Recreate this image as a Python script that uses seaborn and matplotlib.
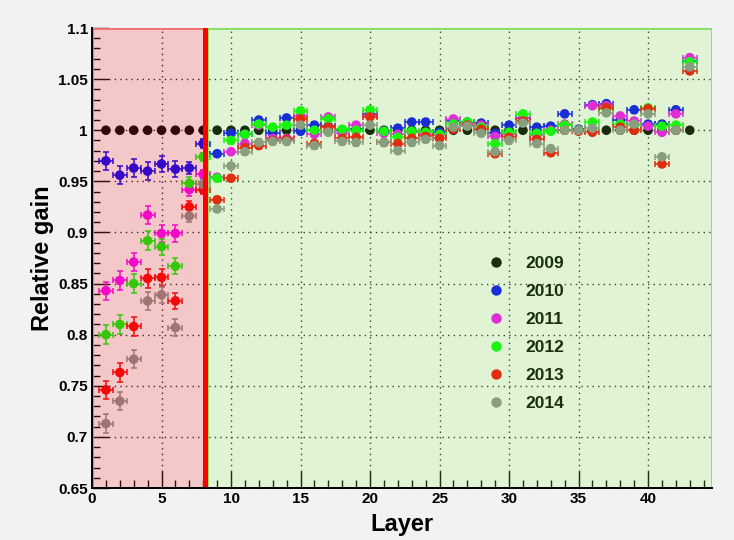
import matplotlib
matplotlib.use("Agg")
import matplotlib.pyplot as plt
from matplotlib.patches import Rectangle
from matplotlib.lines import Line2D
from matplotlib.ticker import MultipleLocator, FuncFormatter
import matplotlib.colors as mcolors
import numpy as np
import pandas as pd
import seaborn as sns

# ---------------------------------------------------------------- data
layers = list(range(1, 44))
years = ["2009", "2010", "2011", "2012", "2013", "2014"]

gain_2009 = [1.0, 1.0, 1.0, 1.0, 1.0, 1.0, 1.0, 1.0, 1.0, 1.0,
             1.0, 1.0, 1.0, 1.0, 1.0, 1.0, 1.0, 1.0, 1.0, 1.0,
             1.0, 1.0, 1.0, 1.0, 1.0, 1.0, 1.0, 1.0, 1.0, 1.0,
             1.0, 1.0, 1.0, 1.0, 1.0, 1.0, 1.0, 1.0, 1.0, 1.0,
             1.0, 1.0, 1.0]
gain_2010 = [0.970, 0.956, 0.963, 0.960, 0.967, 0.962, 0.963, 0.987, 0.977, 0.997,
             0.996, 1.010, 0.997, 1.012, 0.999, 1.005, 1.004, 1.000, 1.001, 1.016,
             0.999, 1.002, 1.008, 1.008, 0.998, 1.009, 1.008, 1.007, 0.997, 1.005,
             1.012, 1.003, 1.004, 1.016, 1.001, 1.025, 1.026, 1.010, 1.020, 1.006,
             1.006, 1.020, 1.068]
gain_2011 = [0.843, 0.853, 0.871, 0.917, 0.899, 0.899, 0.942, 0.957, 0.954, 0.979,
             0.987, 1.005, 0.992, 0.992, 1.014, 0.996, 1.013, 0.997, 1.005, 1.014,
             0.997, 0.996, 0.998, 0.996, 0.995, 1.011, 1.006, 1.005, 0.994, 0.996,
             1.012, 0.995, 1.000, 1.006, 1.000, 1.024, 1.024, 1.014, 1.009, 1.004,
             0.998, 1.016, 1.071]
gain_2012 = [0.800, 0.810, 0.850, 0.892, 0.886, 0.867, 0.948, 0.974, 0.953, 0.990,
             0.996, 1.006, 1.003, 1.005, 1.019, 1.000, 1.011, 1.001, 1.000, 1.020,
             0.999, 0.993, 0.999, 0.998, 0.996, 1.006, 1.008, 1.003, 0.987, 0.998,
             1.016, 0.997, 0.999, 1.005, 1.000, 1.008, 1.021, 1.006, 1.005, 1.022,
             1.004, 1.005, 1.067]
gain_2013 = [0.746, 0.763, 0.808, 0.855, 0.856, 0.833, 0.925, 0.942, 0.932, 0.953,
             0.983, 0.985, 0.990, 0.991, 1.011, 0.987, 1.003, 0.992, 0.993, 1.013,
             0.988, 0.987, 0.992, 0.994, 0.992, 1.001, 1.005, 1.001, 0.977, 0.993,
             1.009, 0.991, 0.978, 1.000, 0.999, 0.998, 1.022, 1.003, 1.000, 1.021,
             0.967, 1.000, 1.058]
gain_2014 = [0.713, 0.735, 0.776, 0.833, 0.839, 0.807, 0.916, 0.947, 0.923, 0.965,
             0.979, 0.988, 0.989, 0.989, 1.005, 0.985, 0.998, 0.989, 0.988, 1.005,
             0.988, 0.980, 0.988, 0.991, 0.985, 1.003, 1.004, 0.997, 0.979, 0.990,
             1.007, 0.987, 0.982, 1.000, 1.000, 1.002, 1.017, 1.000, 1.006, 1.016,
             0.974, 1.000, 1.062]

# per-layer uncertainty on the relative gain (2009 is the reference, no error)
gain_err = [0.009, 0.009, 0.009, 0.009, 0.008, 0.008, 0.006, 0.004, 0.003, 0.003,
            0.003, 0.003, 0.003, 0.003, 0.003, 0.003, 0.003, 0.003, 0.003, 0.003,
            0.003, 0.003, 0.003, 0.003, 0.003, 0.003, 0.003, 0.003, 0.003, 0.003,
            0.003, 0.003, 0.003, 0.003, 0.003, 0.003, 0.003, 0.003, 0.003, 0.003,
            0.003, 0.003, 0.003]

series = {"2009": gain_2009, "2010": gain_2010, "2011": gain_2011,
          "2012": gain_2012, "2013": gain_2013, "2014": gain_2014}

colors = {"2009": "#000000", "2010": "#0000ff", "2011": "#ff00ff",
          "2012": "#00ff00", "2013": "#ff0000", "2014": "#909090"}

# ---------------------------------------------------------------- style
sns.set_theme(style="white")
plt.rcParams["font.family"] = ["Liberation Sans", "DejaVu Sans"]
plt.rcParams["font.weight"] = "bold"
for key in ("text.color", "axes.labelcolor", "xtick.color", "ytick.color",
            "xtick.labelcolor", "ytick.labelcolor"):
    plt.rcParams[key] = "black"

fig = plt.figure(figsize=(7.34, 5.40), dpi=100, facecolor="#f2f2f2")
ax = fig.add_axes([92 / 734, 52 / 540, 620 / 734, 460 / 540])
ax.set_facecolor("white")

x_max = 44.6
boundary = 8.15
ax.set_xlim(0, x_max)
ax.set_ylim(0.65, 1.1)

# ---------------------------------------------------------------- points
for yr in years:
    df = pd.DataFrame({"layer": layers, "gain": series[yr]})
    if yr != "2009":
        ax.errorbar(df["layer"], df["gain"], xerr=0.5, yerr=gain_err,
                    fmt="none", ecolor=colors[yr], elinewidth=1.1,
                    capsize=2.2, capthick=1.1, zorder=2)
    sns.scatterplot(data=df, x="layer", y="gain", color=colors[yr], s=48,
                    edgecolor="none", linewidth=0, ax=ax, zorder=2.1,
                    legend=False)

# ---------------------------------------------------------------- shaded regions
red_fill, red_alpha = "#d42424", 0.25
green_fill, green_alpha = "#72d144", 0.22
ax.add_patch(Rectangle((0, 0.65), boundary, 0.45, facecolor=red_fill,
                       alpha=red_alpha, edgecolor="none", zorder=3))
ax.add_patch(Rectangle((0, 0.65), boundary, 0.45, facecolor="none",
                       edgecolor="#f07070", lw=2.0, zorder=3.1))
ax.add_patch(Rectangle((boundary + 0.1, 0.65), x_max - boundary - 0.1, 0.45,
                       facecolor=green_fill, alpha=green_alpha,
                       edgecolor="none", zorder=3))
ax.add_patch(Rectangle((boundary + 0.1, 0.65), x_max - boundary - 0.1, 0.45,
                       facecolor="none", edgecolor="#86e060", lw=2.0,
                       zorder=3.1))
ax.axvline(boundary, color="#ff0000", lw=3.6, zorder=4)

# ---------------------------------------------------------------- axes
ax.xaxis.set_major_locator(MultipleLocator(5))
ax.xaxis.set_minor_locator(MultipleLocator(1))
ax.yaxis.set_major_locator(MultipleLocator(0.05))
ax.yaxis.set_minor_locator(MultipleLocator(0.01))
ax.yaxis.set_major_formatter(FuncFormatter(lambda v, p: f"{v:g}"))
ax.xaxis.set_major_formatter(FuncFormatter(lambda v, p: f"{v:g}"))

for v in ax.get_xticks():
    if 0 < v < x_max:
        ax.axvline(v, color="#222222", lw=1.0, ls=(0, (1, 3)), zorder=1)
for v in ax.get_yticks():
    if 0.65 < v < 1.1:
        ax.axhline(v, color="#222222", lw=1.0, ls=(0, (1, 3)), zorder=1)

ax.tick_params(which="major", direction="in", length=12, width=1.0,
               color="black", labelcolor="black", labelsize=11, pad=3,
               top=False, right=False, bottom=True, left=True)
ax.tick_params(which="minor", direction="in", length=6, width=1.0,
               color="black", top=False, right=False, bottom=True, left=True)
for lab in ax.get_xticklabels() + ax.get_yticklabels():
    lab.set_fontweight("bold")

for side in ("top", "right"):
    ax.spines[side].set_visible(False)
for side in ("left", "bottom"):
    ax.spines[side].set_color("black")
    ax.spines[side].set_linewidth(1.4)
    ax.spines[side].set_zorder(5)

ax.set_xlabel("Layer", fontsize=17, fontweight="bold", labelpad=5,
              color="black")
ax.set_ylabel("Relative gain", fontsize=17, fontweight="bold", labelpad=3,
              color="black")

# ---------------------------------------------------------------- legend
def tinted(c):
    base = np.array(mcolors.to_rgb(c))
    tint = np.array(mcolors.to_rgb(green_fill))
    return tuple((1 - green_alpha) * base + green_alpha * tint)

handles = [Line2D([0], [0], marker="o", ls="none", markersize=7.5,
                  markerfacecolor=tinted(colors[yr]), markeredgecolor="none")
           for yr in years]
leg = ax.legend(handles, years, loc="upper left",
                bbox_to_anchor=(0.627, 0.52), frameon=False,
                fontsize=12.5, handlelength=1.0, handletextpad=1.15,
                labelspacing=0.74, borderaxespad=0)
for t in leg.get_texts():
    t.set_fontweight("bold")
    t.set_color(tinted("#000000"))

fig.savefig("out.png", dpi=100, facecolor=fig.get_facecolor())
